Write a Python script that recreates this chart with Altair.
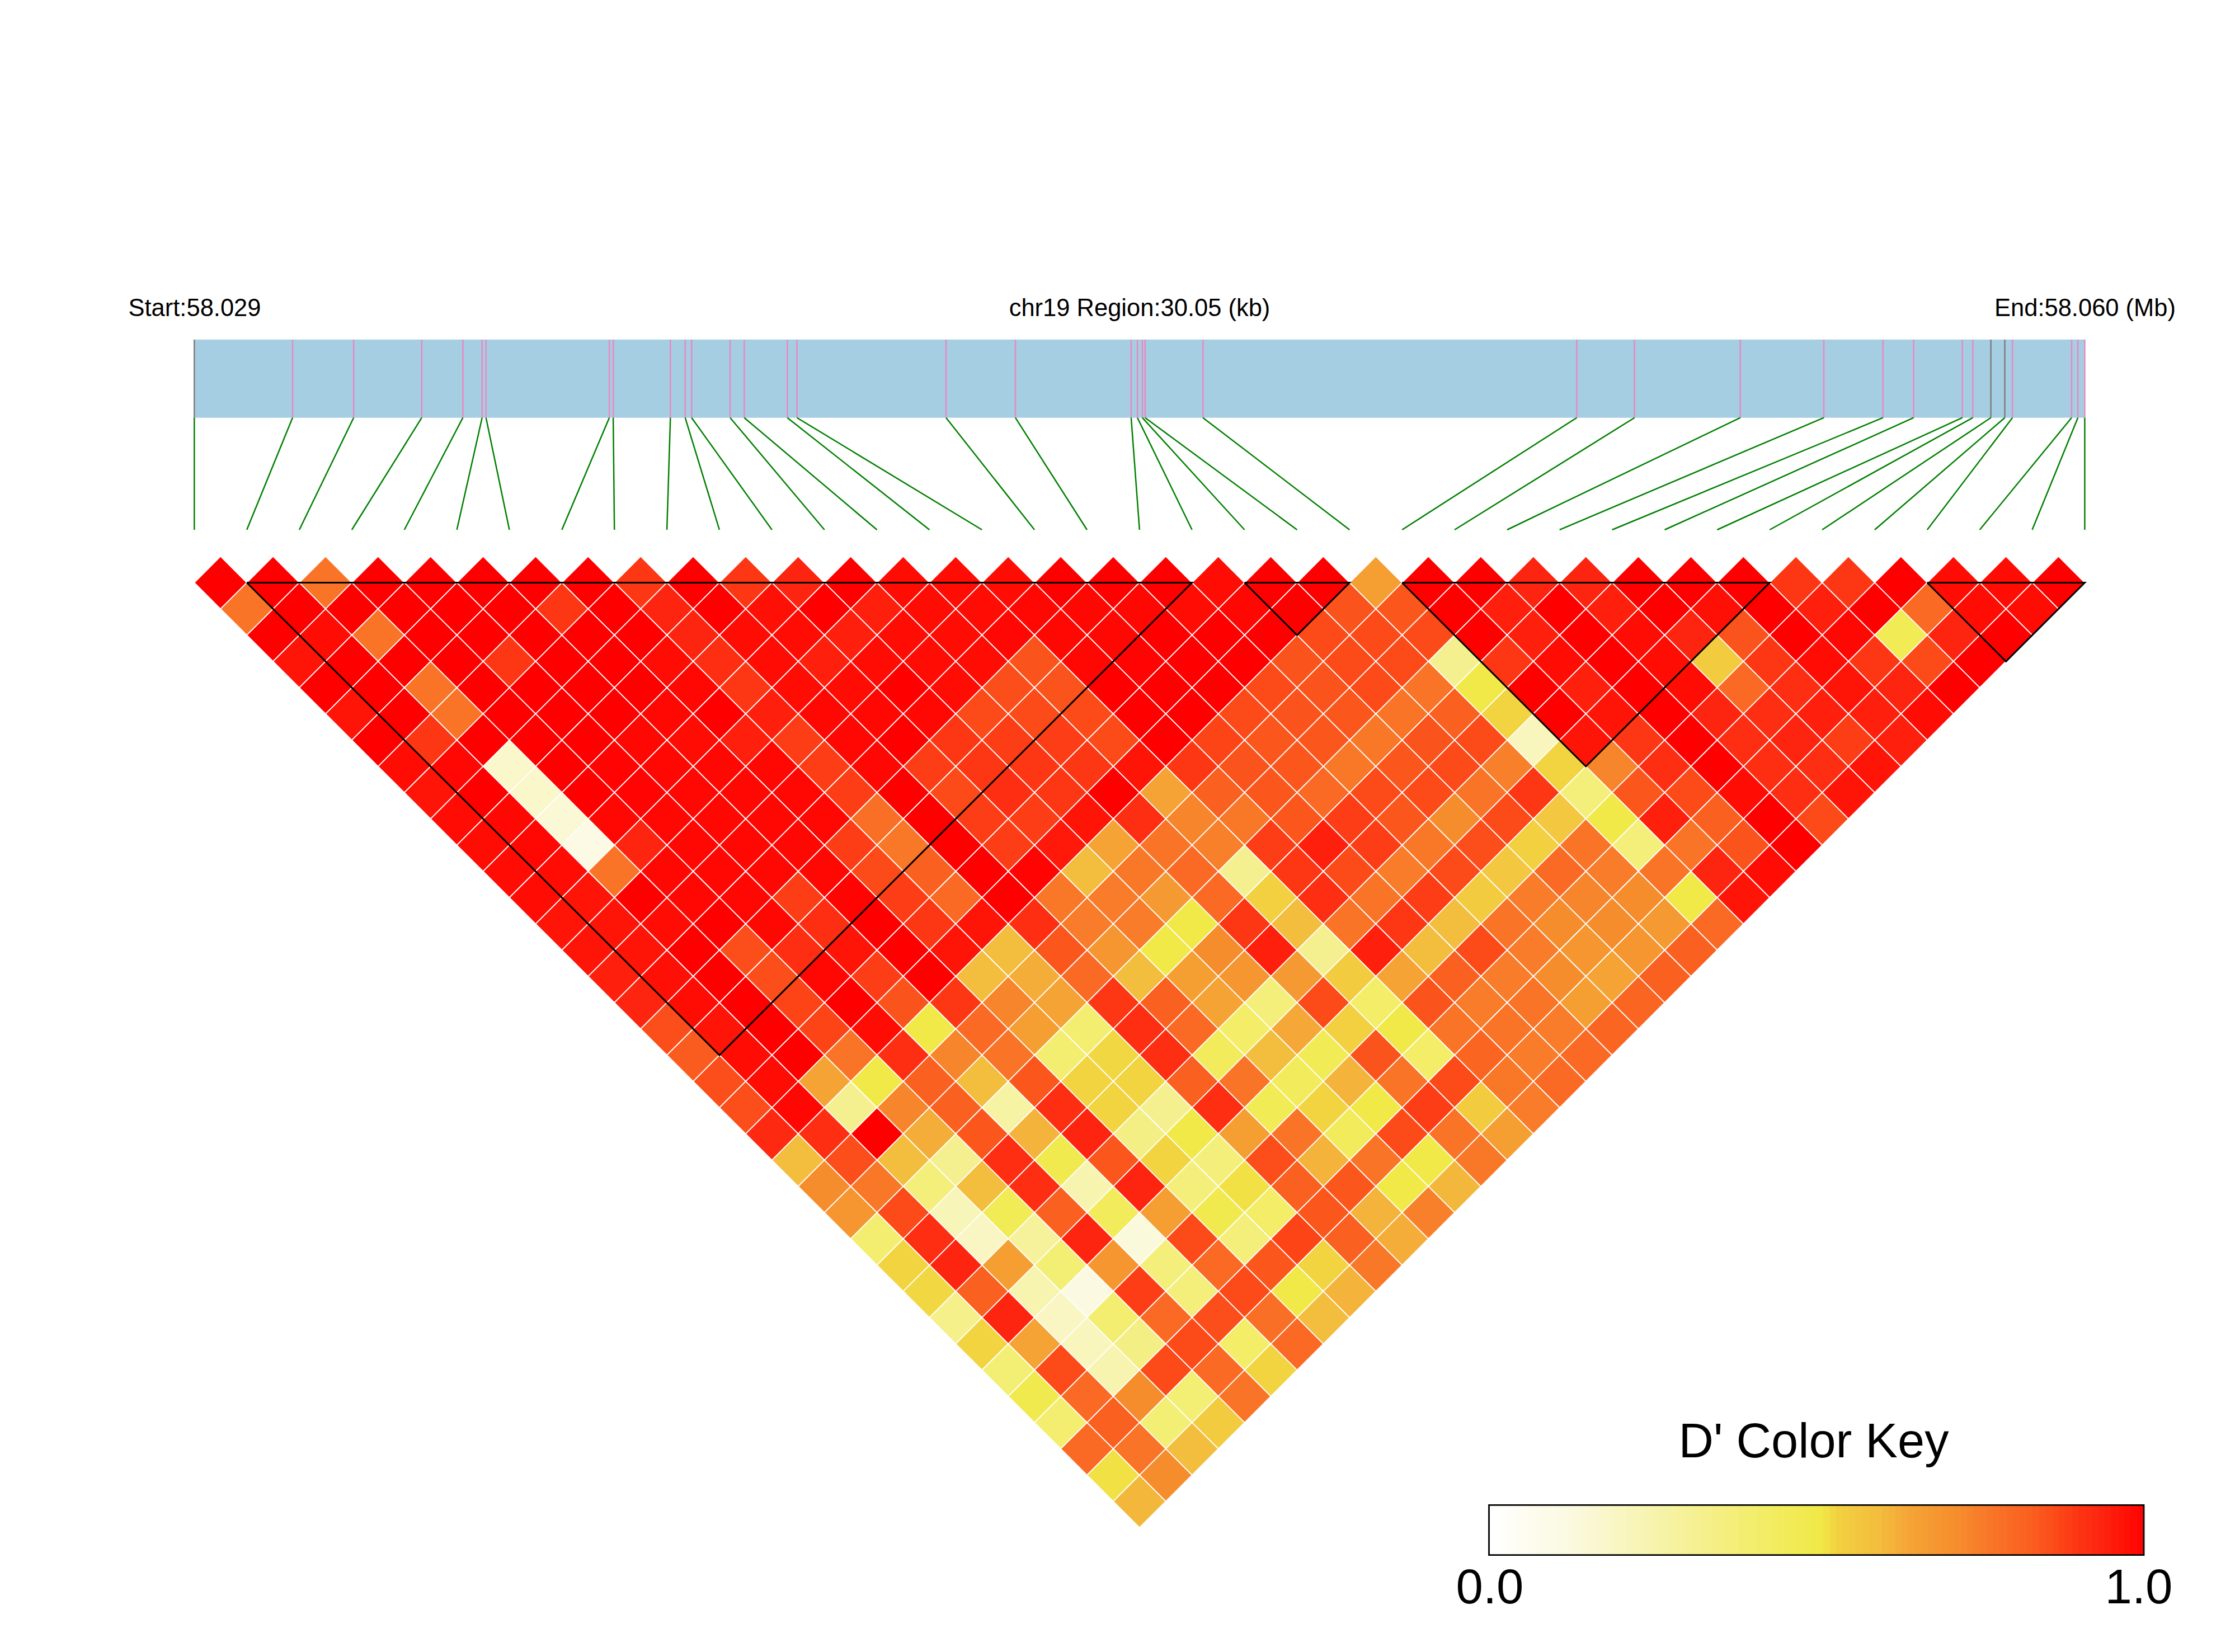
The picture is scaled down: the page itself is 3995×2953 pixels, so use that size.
import altair as alt
import numpy as np
import pandas as pd

alt.data_transformers.disable_max_rows()

row_00 = [1,1,.76,1,1,1,1,1,.88,1,.88,.92,1,.97,.97,.97,1,1,1,.97,1,1,.66,1,1,.92,.92,1,1,1,.88,.88,1,.97,.97,1]
row_01 = [.76,1,1,1,1,1,.88,1,.92,1,.96,1,.93,.97,.97,.98,.98,.98,.97,.98,1,.83,.82,1,.93,1,.93,1,.96,1,.93,1,.78,.97,.97]
row_02 = [1,.97,.76,1,1,1,1,1,.92,.97,.97,.93,.97,.97,.98,.98,.98,1,1,1,.85,.85,.85,1,.93,1,.97,.92,.83,1,.98,.48,.92,1]
row_03 = [.95,1,1,1,.88,1,1,.97,.9,.97,.93,.97,.97,.97,.83,.98,.99,1,1,.83,.85,.85,.38,.88,.97,1,.97,.57,.88,.97,.88,.85,1]
row_04 = [1,1,.76,1,1,1,1,.98,.88,.97,.97,1,.97,.84,.83,1,1,1,.85,.83,.85,.76,.5,1,.93,1,.97,.78,.9,.95,.92,1]
row_05 = [.95,1,.76,1,1,1,.98,1,.93,.98,.98,.98,.85,.85,.85,1,1,.85,.83,.82,.76,.8,.55,1,.95,1,.92,.9,.93,.93,.97]
row_06 = [1,.88,1,1,1,.98,.97,.93,.87,.98,1,.88,.87,.87,.85,1,.86,.82,.82,.75,.83,.85,.25,.95,.88,1,.9,.92,.87,.93]
row_07 = [.97,.98,.2,1,.99,.98,.98,.98,.87,.98,.87,.88,.88,.88,.95,.88,.83,.82,.75,.82,.85,.73,.55,.72,.9,1,.9,.9,.95]
row_08 = [.95,1,.2,1,.99,.98,.98,.98,.87,1,.85,.9,.88,1,.65,.8,.82,.78,.85,.85,.76,.88,.42,.82,.85,.97,.9,.95]
row_09 = [.97,.98,.17,.98,.98,.98,.98,.98,.77,1,.87,.87,.95,.9,.72,.75,.82,.87,.82,.7,.85,.58,.5,.93,.8,1,.85]
row_10 = [.97,.98,.12,.92,.98,.98,.98,.87,.75,1,.87,.94,.65,.76,.73,.87,.93,.87,.75,.84,.56,.76,.42,.76,.83,1]
row_11 = [.97,.97,.76,.98,.98,.98,.98,.85,.8,1,.99,.6,.75,.78,.38,.88,.85,.74,.85,.58,.78,.74,.76,.92,.97]
row_12 = [.97,.95,1,.98,.98,.87,.99,.87,.78,1,.75,.74,.67,.78,.56,.9,.76,.87,.57,.74,.72,.7,.5,.95]
row_13 = [.95,.95,.97,1,.98,.9,1,.88,.95,.9,.74,.74,.5,.88,.6,.76,.88,.6,.76,.7,.7,.67,.78]
row_14 = [.95,.95,1,.84,.9,.95,1,.95,.6,.82,.68,.5,.7,.93,.38,.93,.6,.85,.74,.68,.68,.8]
row_15 = [.93,.96,1,.84,.98,.87,1,.6,.63,.78,.6,.66,.68,.67,.57,.65,.8,.74,.7,.65,.8]
row_16 = [.92,.97,1,.86,1,.83,.88,.72,.65,.88,.8,.65,.42,.85,.45,.83,.74,.76,.66,.79]
row_17 = [.84,.95,1,.86,.97,.5,.78,.66,.44,.9,.78,.45,.64,.56,.5,.76,.76,.74,.79]
row_18 = [.81,.97,1,.76,.9,.72,.76,.44,.54,.9,.47,.6,.48,.83,.45,.79,.74,.78]
row_19 = [.84,.97,.65,.5,.8,.6,.82,.55,.55,.8,.76,.47,.62,.76,.85,.75,.78]
row_20 = [.84,.98,.38,.72,.8,.33,.9,.55,.38,.9,.48,.55,.5,.87,.57,.74]
row_21 = [.91,.9,1,.63,.82,.62,.92,.4,.5,.66,.76,.47,.85,.76,.66]
row_22 = [.6,.84,.6,.38,.9,.49,.82,.55,.42,.84,.62,.76,.5,.75]
row_23 = [.7,.75,.42,.6,.9,.3,.92,.42,.52,.8,.82,.5,.61]
row_24 = [.68,.85,.27,.48,.8,.47,.66,.49,.45,.82,.62,.73]
row_25 = [.44,.9,.22,.35,.92,.15,.85,.42,.86,.8,.63]
row_26 = [.55,.92,.66,.43,.68,.42,.78,.82,.55,.75]
row_27 = [.54,.8,.3,.13,.87,.42,.85,.5,.62]
row_28 = [.39,.92,.22,.44,.78,.84,.77,.6]
row_29 = [.55,.65,.25,.4,.85,.45,.78]
row_30 = [.43,.85,.3,.85,.78,.55]
row_31 = [.49,.78,.7,.43,.76]
row_32 = [.44,.8,.43,.57]
row_33 = [.78,.76,.6]
row_34 = [.52,.7]
row_35 = [.61]
d_prime_rows = [row_00,row_01,row_02,row_03,row_04,row_05,row_06,row_07,row_08,row_09,row_10,row_11,
                row_12,row_13,row_14,row_15,row_16,row_17,row_18,row_19,row_20,row_21,row_22,row_23,
                row_24,row_25,row_26,row_27,row_28,row_29,row_30,row_31,row_32,row_33,row_34,row_35]

snp_kb = [0.0,1.562,2.533,3.615,4.269,4.575,4.637,6.597,6.659,7.568,7.803,7.905,8.518,8.742,9.427,9.58,
          11.95,13.052,14.892,14.992,15.07,15.114,16.033,21.975,22.893,24.575,25.903,26.843,27.33,28.104,
          28.271,28.558,28.779,28.901,29.841,29.941,30.05]
gray_snps = [0, 31, 32]
region_kb = 30.05

block_start = [1, 20, 23, 33]
block_end = [19, 22, 30, 36]

# the values above were read against read_stops; the key in the picture places the same colours at color_stops
read_stops = [0,.14,.22,.3,.38,.44,.5,.56,.6,.65,.7,.76,.8,.85,.88,.92,.95,1]
color_stops = [0,.12,.19,.24,.315,.39,.5,.53,.59,.64,.71,.765,.82,.86,.89,.93,.96,1]
color_range = ["#FFFFFF","#FBF9DF","#F9F6C4","#F7F4B0","#F5F08F","#F3EE6F","#F0E948","#F2D040","#F3BD3D",
               "#F5A335","#F68D2D","#F97427","#FA6020","#FC4A19","#FD3714","#FD2410","#FF1408","#FF0000"]
key_steps = [n / 100 for n in range(100)]

# ---- tables
n_snp = len(snp_kb)
cells = pd.DataFrame([
    {"k": i + (r + 1) / 2, "row": r, "d": float(np.interp(v, read_stops, color_stops))}
    for r, vals in enumerate(d_prime_rows) for i, v in enumerate(vals)
])
snps = pd.DataFrame([
    {"top": kb / region_kb * (n_snp - 1), "bottom": n, "kind": "gray" if n in gray_snps else "pink"}
    for n, kb in enumerate(snp_kb)
])
blocks = pd.DataFrame([
    p for b, (a, e) in enumerate(zip(block_start, block_end))
    for p in [
        {"b": b, "o": 0, "k": a, "row": 0},
        {"b": b, "o": 1, "k": e, "row": 0},
        {"b": b, "o": 2, "k": (a + e) / 2, "row": e - a},
        {"b": b, "o": 3, "k": a, "row": 0},
    ]
])
key = pd.DataFrame({"v": key_steps, "v2": [v + 0.0105 for v in key_steps]})
key.loc[key.v2 > 1, "v2"] = 1.0

X0, X1 = 339.3, 3718.4           # SNP 0 and SNP 36 across the plot
Y0, DY = 1033.5, 46.92           # row 0 centre and row pitch
kx = alt.Scale(domain=[0, n_snp - 1], range=[X0, X1])
ry = alt.Scale(domain=[0, 35], range=[Y0, Y0 + 35 * DY])
color = alt.Scale(domain=color_stops, range=color_range, interpolate="rgb")

bar = alt.Chart(pd.DataFrame({"a": [0], "b": [n_snp - 1]})).mark_rect(color="#A6CEE3").encode(
    x=alt.X("a:Q", scale=kx, axis=None), x2="b:Q", y=alt.value(599), y2=alt.value(738.7))

ticks = alt.Chart(snps).mark_rule(strokeWidth=2.6).encode(
    x=alt.X("top:Q", scale=kx, axis=None),
    y=alt.value(599), y2=alt.value(738.7),
    color=alt.Color("kind:N", scale=alt.Scale(domain=["pink", "gray"], range=["#E78AC3", "#808080"]), legend=None))

links = alt.Chart(snps).mark_rule(strokeWidth=2.5, color="#008000").encode(
    x=alt.X("top:Q", scale=kx, axis=None), x2="bottom:Q",
    y=alt.value(738.7), y2=alt.value(939))

heat = alt.Chart(cells).mark_square(size=4405, angle=45, stroke="white", strokeWidth=1.8, opacity=1).encode(
    x=alt.X("k:Q", scale=kx, axis=None),
    y=alt.Y("row:Q", scale=ry, axis=None),
    fill=alt.Fill("d:Q", scale=color, legend=None))

block_lines = alt.Chart(blocks).mark_line(color="black", strokeWidth=3, strokeJoin="miter").encode(
    x=alt.X("k:Q", scale=kx, axis=None),
    y=alt.Y("row:Q", scale=ry, axis=None),
    detail="b:N", order="o:Q")

kscale = alt.Scale(domain=[0, 1], range=[2653.5, 3824])
ramp = alt.Chart(key).mark_rect().encode(
    x=alt.X("v:Q", scale=kscale, axis=None), x2="v2:Q",
    y=alt.value(2682.3), y2=alt.value(2771.7),
    fill=alt.Fill("v:Q", scale=color, legend=None))
frame = alt.Chart(pd.DataFrame({"a": [0], "b": [1]})).mark_rect(
    fill="transparent", stroke="black", strokeWidth=2.8).encode(
    x=alt.X("a:Q", scale=kscale, axis=None), x2="b:Q",
    y=alt.value(2682.3), y2=alt.value(2771.7))


def label(text, x, y, size):
    return alt.Chart(pd.DataFrame({"t": [text]})).mark_text(
        font="Liberation Sans", fontSize=size, color="black", align="center", baseline="alphabetic"
    ).encode(text="t:N", x=alt.value(x), y=alt.value(y))


texts = [
    label("Start:58.029", 340, 557, 43.5),
    label("chr19 Region:30.05 (kb)", 2029, 557, 43.5),
    label("End:58.060 (Mb)", 3719, 557, 43.5),
    label("D' Color Key", 3234, 2597, 86.5),
    label("0.0", 2655, 2858, 87),
    label("1.0", 3815, 2858, 87),
]

chart = alt.layer(bar, ticks, links, heat, block_lines, ramp, frame, *texts).resolve_scale(
    x="independent", y="independent", fill="independent", color="independent"
).properties(
    width=3975, height=2930, padding=0, background="white",
    autosize=alt.AutoSizeParams(type="none", contains="padding")
).configure_view(strokeWidth=0, strokeOpacity=0)

chart.save("out.html", embed_options={"renderer": "svg", "actions": False})
